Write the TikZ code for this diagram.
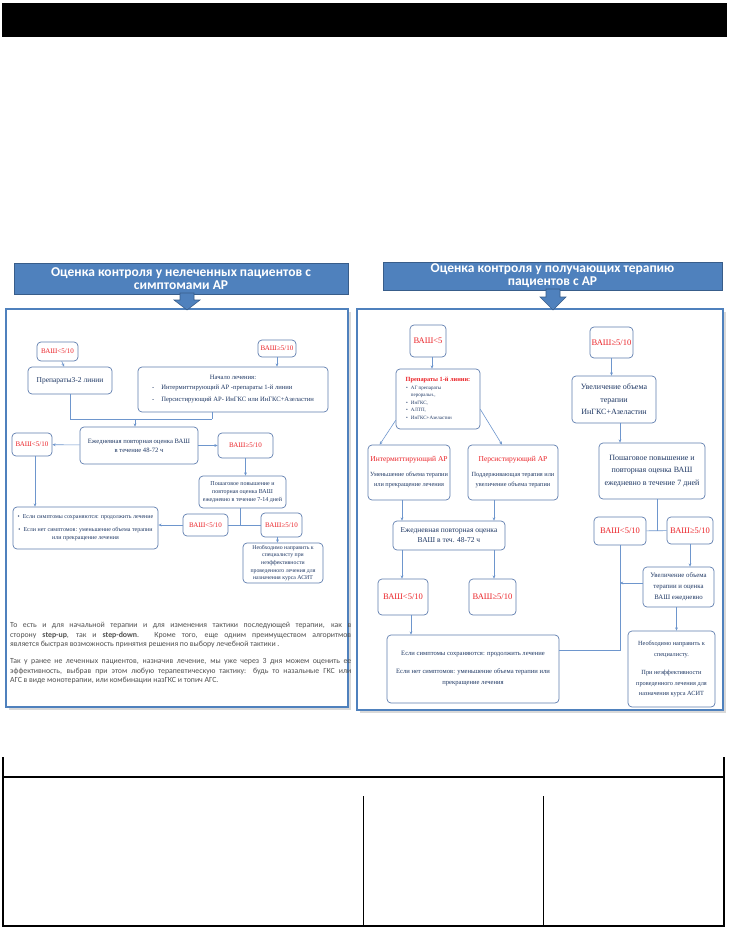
\documentclass[tikz,border=0pt]{standalone}
\usepackage{fontspec}
\setmainfont{Liberation Serif}
\newfontfamily\calib{Carlito}
\usetikzlibrary{arrows.meta,calc}
\definecolor{navy}{RGB}{31,56,100}
\definecolor{vred}{RGB}{235,35,40}
\definecolor{boxc}{RGB}{95,125,175}
\definecolor{linec}{RGB}{110,150,205}
\definecolor{bannerfill}{RGB}{79,129,189}
\definecolor{bannerdraw}{RGB}{56,93,138}
\definecolor{paneldraw}{RGB}{79,129,189}
\definecolor{paratext}{RGB}{80,80,80}
\newcommand\fsLeft{\fontsize{6.6}{9}\selectfont}
\newcommand\fsLvas{\fontsize{7}{8}\selectfont}
\newcommand\fsRvas{\fontsize{8.5}{10}\selectfont}
\newcommand\fsRsmall{\fontsize{6.3}{10}\selectfont}
\newcommand\fsRmid{\fontsize{7.5}{10}\selectfont}
\newcommand\fsRbig{\fontsize{8}{12.5}\selectfont}
\begin{document}
\begin{tikzpicture}[x=1pt,y=-1pt,
  box/.style={draw=boxc, line width=0.7pt, rounded corners=4pt, fill=white, align=center, inner sep=1pt, text=navy},
  vas/.style={box, text=vred},
  conn/.style={draw=linec, line width=0.6pt},
  arr/.style={conn, -{Stealth[length=3.2pt,width=2.8pt]}},
  banner/.style={fill=bannerfill, draw=bannerdraw, line width=0.8pt, text=white, align=center, font=\calib\bfseries\fontsize{13.5}{13}\selectfont, inner sep=0pt},
  panel/.style={draw=paneldraw, line width=1.5pt, fill=white, inner sep=0pt},
  blockarrow/.style={fill=bannerfill, draw=bannerdraw, line width=0.6pt},
  tableline/.style={draw=black, line width=1.2pt}
]
\useasboundingbox (0,0) rectangle (729,928);
\fill[white] (0,0) rectangle (729,928);

% top black bar
\fill[black] (2,3) rectangle (727,37);

% ---------- banners ----------
\node[banner, minimum width=334, minimum height=31] (Lban) at (181,278.5)
  {Оценка контроля у нелеченных пациентов  с\\симптомами АР};
\node[banner, minimum width=339, minimum height=28] (Rban) at (552.5,276)
  {Оценка контроля у получающих терапию\\пациентов  с АР};

% ---------- panels ----------
\fill[gray!30] (9,312) rectangle (351,710);
\fill[gray!30] (360,312) rectangle (726,713);
\node[panel, minimum width=342, minimum height=398] (Lpanel) at (177,508) {};
\node[panel, minimum width=366, minimum height=401] (Rpanel) at (540,509.5) {};

% block arrows
\draw[blockarrow] (180,293) -- (194,293) -- (194,300) -- (200,300) -- (187,310) -- (174,300) -- (180,300) -- cycle;
\draw[blockarrow] (546,289) -- (560,289) -- (560,297) -- (566,297) -- (553,310) -- (540,297) -- (546,297) -- cycle;

% ---------- left flowchart ----------
\node[vas, minimum width=41, minimum height=19, font=\fsLvas] (LvA) at (57.5,351.5) {ВАШ<5/10};
\node[vas, minimum width=38, minimum height=17, font=\fsLvas] (LvB) at (277,348.5) {ВАШ≥5/10};
\node[box, minimum width=84, minimum height=27, font=\fontsize{7.5}{9}\selectfont] (Lprep) at (70,380.5) {Препараты3-2 линии};
\node[box, minimum width=190, minimum height=45, font=\fsLeft] (Lstart) at (233,389.5)
  {Начало лечения:\\[2pt]
   \begin{tabular}{@{}l@{\hspace{7pt}}l@{}}
   - & Интермиттирующий  АР -препараты 1-й линии\\[3pt]
   - & Персистирующий  АР- ИнГКС или ИнГКС+Азеластин
   \end{tabular}};
\node[box, minimum width=118, minimum height=37, font=\fsLeft] (Ldaily) at (139,445.5)
  {Ежедневная повторная оценка ВАШ\\в течение  48-72 ч};
\node[vas, minimum width=40, minimum height=23, font=\fsLvas] (LvC) at (32,444.5) {ВАШ<5/10};
\node[vas, minimum width=55, minimum height=25, font=\fsLvas] (LvD) at (245.5,445.5) {ВАШ≥5/10};
\node[box, minimum width=145, minimum height=42, font=\fontsize{6}{8}\selectfont] (Lres) at (85.5,528)
  {•\enspace Если симптомы сохраняются: продолжить  лечение\\[5pt]
   •\enspace Если нет симптомов: уменьшение объема терапии\\
   или прекращение лечения};
\node[box, minimum width=87, minimum height=32, font=\fontsize{6}{8}\selectfont] (Lstep) at (242.5,492)
  {Пошаговое повышение и\\повторная оценка ВАШ\\ежедневно в течение 7-14 дней};
\node[vas, minimum width=45, minimum height=22, font=\fsLvas] (LvE) at (205.5,525) {ВАШ<5/10};
\node[vas, minimum width=41, minimum height=24, font=\fsLvas] (LvF) at (281.5,525) {ВАШ≥5/10};
\node[box, minimum width=80, minimum height=40, font=\fontsize{5.8}{7.6}\selectfont] (Lref) at (283,563)
  {Необходимо направить к\\специалисту при\\неэффективности\\проведенного лечения для\\назначения курса АСИТ};

\coordinate (Lj) at (135,419);
\coordinate (Lj2) at (212,419);
\draw[arr] (LvA) -- (Lprep);
\draw[arr] (LvB) -- (LvB |- Lstart.north);
\draw[conn] (Lprep) |- (Lj2);
\draw[conn] (Lstart.south -| Lj2) -- (Lj2);
\draw[arr] (Lj) -- (Lj |- Ldaily.north);
\draw[arr] (Ldaily) -- (LvC);
\draw[arr] (Ldaily) -- (LvD);
\draw[arr] ([xshift=3pt]LvC.south) -- ([xshift=3pt]LvC.south |- Lres.north);
\draw[arr] (LvD) -- (LvD |- Lstep.north);
\draw[conn] ([xshift=-2pt]Lstep.south) -- ([xshift=-2pt]Lstep.south |- LvE.east);
\draw[conn] (LvE) -- (LvF);
\draw[arr] (LvE) -- (LvE -| Lres.east);
\draw[arr] ([xshift=-4pt]LvF.south) -- ([xshift=-4pt]LvF.south |- Lref.north);

% paragraph text
\node[anchor=north west, text width=341pt, align=justify, inner sep=0pt, text=paratext,
      font=\calib\fontsize{7.8}{9.7}\selectfont] (Lpara) at (10,622)
  {То есть и для начальной терапии и для изменения тактики последующей терапии, как в\linebreak
   сторону \textbf{step-up}, так и \textbf{step-down}. Кроме того, еще одним преимуществом алгоритмов\linebreak
   является быстрая возможность принятия решения по выбору лечебной тактики .\par\vspace{7pt}
   Так у ранее не леченных пациентов, назначив лечение, мы уже через 3 дня можем оценить ее\linebreak
   эффективность, выбрав при этом любую терапевтическую тактику: будь то  назальные ГКС или\linebreak
   АГС в виде монотерапии, или комбинации  назГКС и топич АГС.};

% ---------- right flowchart ----------
\node[vas, minimum width=36, minimum height=32, font=\fsRvas] (RvA) at (428,341) {ВАШ<5};
\node[vas, minimum width=43, minimum height=31, font=\fsRvas] (RvB) at (611.5,342.5) {ВАШ≥5/10};
\node[box, minimum width=84, minimum height=60] (Rprep) at (438,399)
  {{\color{vred}\bfseries\fontsize{6.3}{8}\selectfont Препараты 1-й линии:}\\[1pt]
   {\fontsize{5}{7.4}\selectfont
   \begin{tabular}{@{}l@{\hspace{3pt}}l@{}}
   • & АГ препараты\\
     & пероральн.,\\
   • & ИнГКС,\\
   • & АЛТП,\\
   • & ИнГКС+Азеластин
   \end{tabular}\hspace*{18pt}}};
\node[box, minimum width=82, minimum height=55, font=\fsRsmall] (Rint) at (409,472.5)
  {{\color{vred}\fontsize{7.5}{9}\selectfont Интермиттирующий  АР}\\[5pt]
   Уменьшение объема терапии\\или прекращение лечения};
\node[box, minimum width=90, minimum height=55, font=\fsRsmall] (Rper) at (513,472.5)
  {{\color{vred}\fontsize{7.5}{9}\selectfont Персистирующий  АР}\\[5pt]
   Поддерживающая терапия или\\увеличение объема терапии};
\node[box, minimum width=84, minimum height=47, font=\fsRbig] (Rinc) at (614,399.5)
  {Увеличение объема\\терапии\\ИнГКС+Азеластин};
\node[box, minimum width=106, minimum height=56, font=\fsRbig] (Rstep) at (652,471)
  {Пошаговое повышение и\\повторная оценка ВАШ\\ежедневно в течение 7 дней};
\node[vas, minimum width=52, minimum height=28, font=\fsRvas] (RvC) at (620,531) {ВАШ<5/10};
\node[vas, minimum width=46, minimum height=27, font=\fsRvas] (RvD) at (690,530.5) {ВАШ≥5/10};
\node[box, minimum width=112, minimum height=29, font=\fsRmid] (Rdaily) at (449,535.5)
  {Ежедневная повторная оценка\\ВАШ в теч. 48-72 ч};
\node[vas, minimum width=50, minimum height=36, font=\fsRvas] (RvE) at (403,597) {ВАШ<5/10};
\node[vas, minimum width=47, minimum height=36, font=\fsRvas] (RvF) at (492.5,597) {ВАШ≥5/10};
\node[box, minimum width=172, minimum height=68, font=\fontsize{6.6}{12}\selectfont] (Rres) at (473,669)
  {Если симптомы сохраняются: продолжить  лечение\\[6pt]
   Если нет симптомов: уменьшение объема терапии или\\[-1pt]прекращение лечения};
\node[box, minimum width=71, minimum height=40, font=\fontsize{6.8}{11}\selectfont] (Rinc2) at (678.5,587)
  {Увеличение объема\\терапии и оценка\\ВАШ ежедневно};
\node[box, minimum width=87, minimum height=76, font=\fontsize{6.3}{10.5}\selectfont] (Rref) at (671.5,669)
  {Необходимо направить к\\специалисту.\\[8pt]При неэффективности\\проведенного лечения для\\назначения курса АСИТ};

\draw[arr] ([xshift=4pt]RvA.south) -- ([xshift=4pt]RvA.south |- Rprep.north);
\draw[arr] ([yshift=9pt]Rprep.south west) -- ([xshift=12pt]Rint.north west);
\draw[arr] ([yshift=20pt]Rprep.south east) -- ([xshift=-11pt]Rper.north);
\draw[arr] (RvB) -- (RvB |- Rinc.north);
\draw[arr] ([xshift=6pt]Rinc.south) -- ([xshift=6pt]Rinc.south |- Rstep.north);
\draw[conn] ([xshift=5pt]Rstep.south) -- ([xshift=5pt]Rstep.south |- RvC.east);
\draw[conn] (RvC) -- (RvD);
\draw[arr] ([xshift=-7pt]Rint.south) -- ([xshift=-7pt]Rint.south |- Rdaily.north);
\draw[arr] ([xshift=-19pt]Rper.south) -- ([xshift=-19pt]Rper.south |- Rdaily.north);
\draw[arr] ([xshift=-47pt]Rdaily.south) -- ([xshift=-47pt]Rdaily.south |- RvE.north);
\draw[arr] ([xshift=45pt]Rdaily.south) -- ([xshift=45pt]Rdaily.south |- RvF.north);
\draw[arr] ([xshift=8pt]RvE.south) -- ([xshift=8pt]RvE.south |- Rres.north);
\draw[conn] (RvC) |- ([yshift=19pt]Rres.east);
\draw[arr] ([yshift=4pt]Rinc2.west) -- ([yshift=4pt]Rinc2.west -| RvC);
\draw[arr] (RvD) -- (RvD |- Rinc2.north);
\draw[arr] ([xshift=-2pt]Rinc2.south) -- ([xshift=-2pt]Rinc2.south |- Rref.north);

% ---------- bottom table ----------
\draw[tableline] (3,757) -- (3,926) -- (724,926) -- (724,757);
\draw[tableline] (3,777) -- (724,777);
\draw[black, line width=0.9pt] (363,796) -- (363,926);
\draw[black, line width=0.9pt] (543,796) -- (543,926);
\end{tikzpicture}
\end{document}
